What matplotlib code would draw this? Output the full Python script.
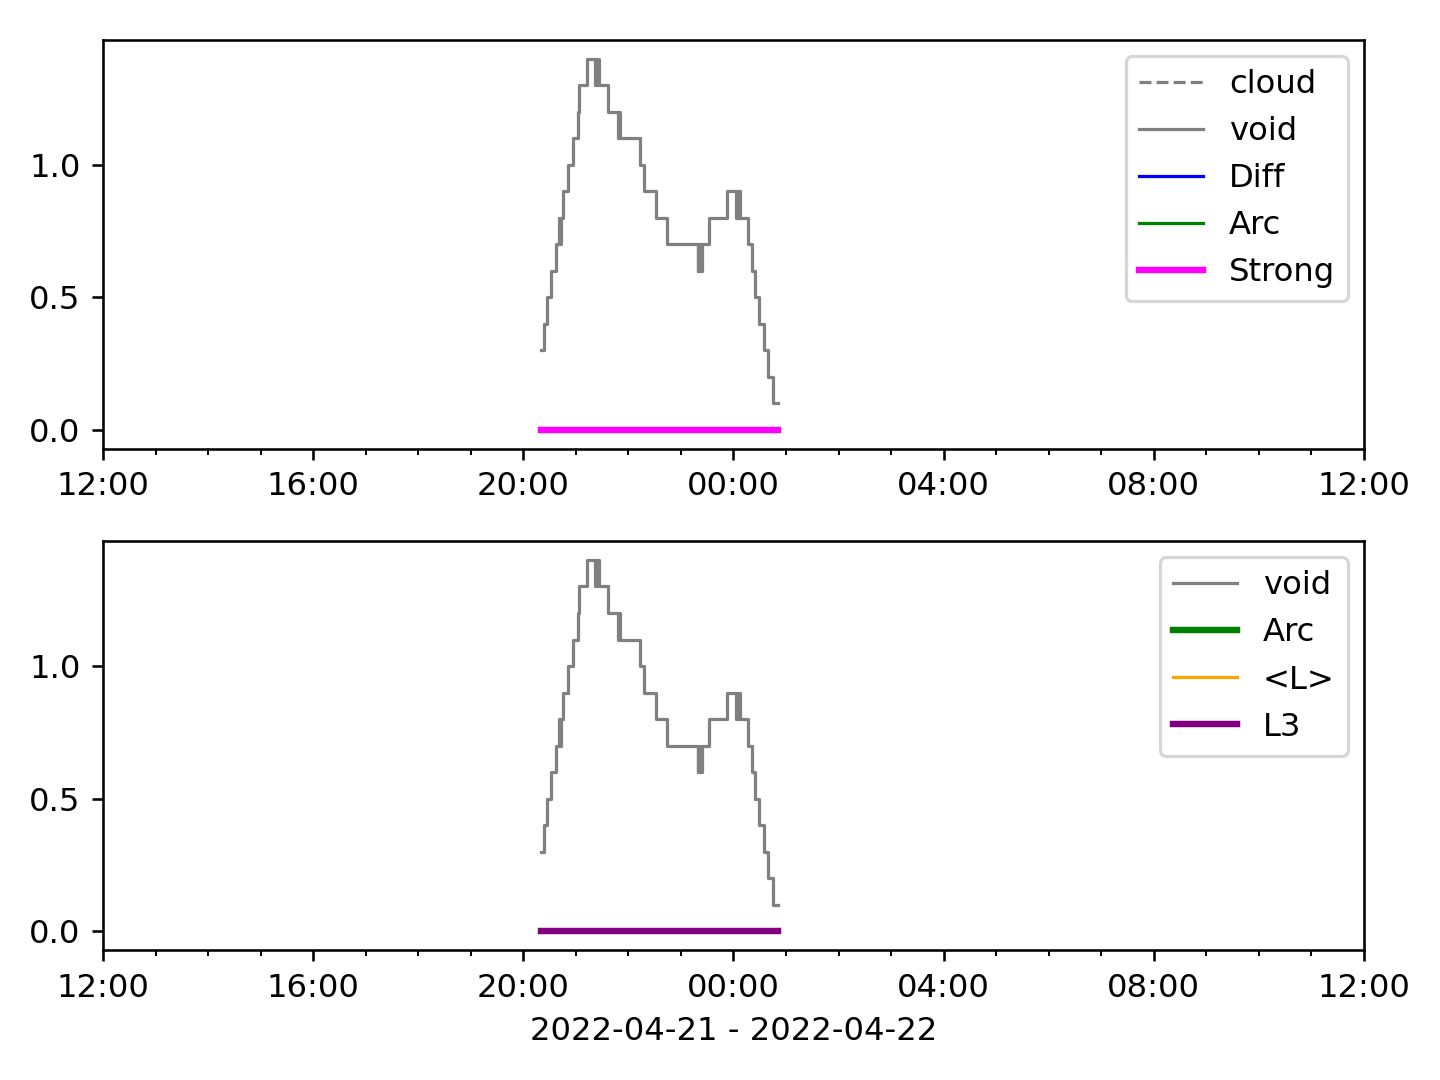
import numpy as np
import pandas as pd
import matplotlib
matplotlib.use("Agg")
import matplotlib.pyplot as plt
import matplotlib.dates as mdates

# step changes of the void level (time of change, new value)
void_times = ["2022-04-21 20:20", "2022-04-21 20:24", "2022-04-21 20:27", "2022-04-21 20:32",
              "2022-04-21 20:37", "2022-04-21 20:41", "2022-04-21 20:42", "2022-04-21 20:43",
              "2022-04-21 20:45", "2022-04-21 20:51", "2022-04-21 20:57", "2022-04-21 21:02",
              "2022-04-21 21:04", "2022-04-21 21:13", "2022-04-21 21:22", "2022-04-21 21:23",
              "2022-04-21 21:24", "2022-04-21 21:25", "2022-04-21 21:26", "2022-04-21 21:37",
              "2022-04-21 21:48", "2022-04-21 21:49", "2022-04-21 21:50", "2022-04-21 22:13",
              "2022-04-21 22:18", "2022-04-21 22:32", "2022-04-21 22:44", "2022-04-21 23:19",
              "2022-04-21 23:20", "2022-04-21 23:21", "2022-04-21 23:22", "2022-04-21 23:23",
              "2022-04-21 23:24", "2022-04-21 23:32", "2022-04-21 23:53", "2022-04-22 00:03",
              "2022-04-22 00:05", "2022-04-22 00:08", "2022-04-22 00:17", "2022-04-22 00:21",
              "2022-04-22 00:25", "2022-04-22 00:29", "2022-04-22 00:35", "2022-04-22 00:39",
              "2022-04-22 00:45", "2022-04-22 00:51"]
void_vals = [0.3, 0.4, 0.5, 0.6,
             0.7, 0.8, 0.7, 0.8,
             0.9, 1.0, 1.1, 1.2,
             1.3, 1.4, 1.3, 1.4,
             1.3, 1.4, 1.3, 1.2,
             1.1, 1.2, 1.1, 1.0,
             0.9, 0.8, 0.7, 0.6,
             0.7, 0.6, 0.7, 0.6,
             0.7, 0.8, 0.9, 0.8,
             0.9, 0.8, 0.7, 0.6,
             0.5, 0.4, 0.3, 0.2,
             0.1, 0.1]

# event flags (at zero) over the same period
event_times = ["2022-04-21 20:20", "2022-04-22 00:51"]
strong_vals = [0, 0]
l3_vals = [0, 0]

t_void = pd.to_datetime(void_times)
t_event = pd.to_datetime(event_times)
t0 = pd.Timestamp("2022-04-21 12:00")
t1 = pd.Timestamp("2022-04-22 12:00")

dpi = 232
fig, (ax1, ax2) = plt.subplots(2, 1, figsize=(1440 / dpi, 1080 / dpi), dpi=dpi)

ax1.plot([], [], color="gray", ls="--", lw=1, label="cloud")
ax1.plot(t_void, void_vals, color="gray", lw=1, drawstyle="steps-post", label="void")
ax1.plot([], [], color="blue", lw=1, label="Diff")
ax1.plot([], [], color="green", lw=1, label="Arc")
ax1.plot(t_event, strong_vals, color="magenta", lw=2, label="Strong")
ax1.legend(loc="upper right")

ax2.plot(t_void, void_vals, color="gray", lw=1, drawstyle="steps-post", label="void")
ax2.plot([], [], color="green", lw=2, label="Arc")
ax2.plot([], [], color="orange", lw=1, label="<L>")
ax2.plot(t_event, l3_vals, color="purple", lw=2, label="L3")
ax2.legend(loc="upper right")
ax2.set_xlabel("2022-04-21 - 2022-04-22")

for ax in (ax1, ax2):
    ax.set_xlim(t0, t1)
    ax.set_ylim(-0.07, 1.47)
    ax.set_yticks([0.0, 0.5, 1.0])
    ax.xaxis.set_major_locator(mdates.HourLocator(byhour=range(0, 24, 4)))
    ax.xaxis.set_minor_locator(mdates.HourLocator())
    ax.xaxis.set_major_formatter(mdates.DateFormatter("%H:%M"))

plt.subplots_adjust(left=0.0715, right=0.9472, top=0.963, bottom=0.1204, hspace=0.227)
plt.savefig("out.png")
